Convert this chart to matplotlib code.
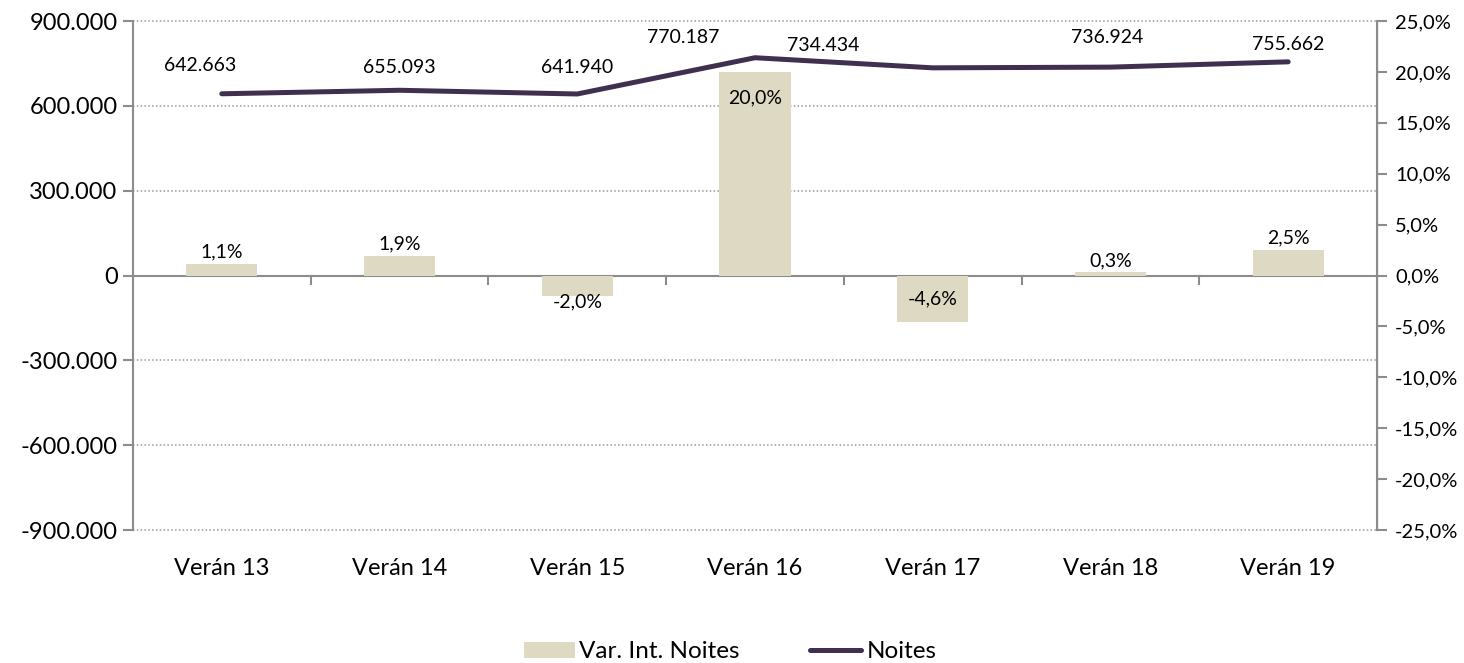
import numpy as np
import matplotlib.pyplot as plt
from matplotlib.ticker import FuncFormatter
from matplotlib.lines import Line2D
from matplotlib.patches import Patch

plt.rcParams['font.family'] = ['Lato', 'DejaVu Sans']

categories = ["Verán 13", "Verán 14", "Verán 15", "Verán 16", "Verán 17", "Verán 18", "Verán 19"]
noites = [642663, 655093, 641940, 770187, 734434, 736924, 755662]
var_pct = [1.1, 1.9, -2.0, 20.0, -4.6, 0.3, 2.5]

# manual label offsets (pixels), like the hand-placed labels in the original
line_lbl_off = [(-22, 28), (0, 23), (0, 26), (-72, 20), (-110, 22), (-3, 30), (0, 17)]
bar_lbl_off = [12, 12, -6, -26, 23, 12, 12]

bar_color = "#DDD9C3"
line_color = "#40304F"
axis_gray = "#8C8C8C"

fig = plt.figure(figsize=(14.64, 6.63), dpi=100)
ax = fig.add_axes([0.0908, 0.2006, 0.8498, 0.7677])
ax2 = ax.twinx()

x = np.arange(len(categories))

# left axis: Noites
ax.plot(x, noites, color=line_color, lw=3.6, solid_capstyle="round", zorder=3)
ax.set_xlim(-0.5, len(categories) - 0.5)
ax.set_ylim(-900000, 900000)
ax.set_yticks(np.arange(-900000, 900001, 300000))
ax.yaxis.set_major_formatter(FuncFormatter(lambda v, p: f"{int(v):,}".replace(",", ".")))
ax.tick_params(axis="y", labelsize=17, length=7, color=axis_gray, width=1.5, pad=4)
for v in [-900000, -600000, -300000, 300000, 600000, 900000]:
    ax.axhline(v, color="#999999", lw=1.1, ls=(0, (1, 1.5)), zorder=0, clip_on=False)
ax.axhline(0, color=axis_gray, lw=1.5, zorder=1)

ax.set_xticks(x)
ax.set_xticklabels(categories, fontsize=17)
ax.tick_params(axis="x", length=0, pad=20)
# category boundary tick marks on the zero line
for b in np.arange(0.5, len(categories) - 1, 1.0):
    ax.plot([b, b], [0, -30000], color=axis_gray, lw=1.5, zorder=1)

for s in ["top", "bottom"]:
    ax.spines[s].set_visible(False)
    ax2.spines[s].set_visible(False)
ax.spines["left"].set_color(axis_gray)
ax.spines["left"].set_linewidth(1.5)
ax2.spines["right"].set_color(axis_gray)
ax2.spines["right"].set_linewidth(1.5)
ax2.spines["left"].set_visible(False)

for xi, v, off in zip(x, noites, line_lbl_off):
    ax.annotate(f"{v:,}".replace(",", "."), (xi, v), xytext=off, textcoords="offset pixels",
                ha="center", va="center", fontsize=14)

# right axis: variation
ax2.bar(x, var_pct, width=0.4, color=bar_color, zorder=2)
ax2.set_ylim(-25, 25)
ax2.set_yticks(np.arange(-25, 26, 5))
ax2.yaxis.set_major_formatter(FuncFormatter(lambda v, p: f"{v:.1f}%".replace(".", ",")))
ax2.tick_params(axis="y", labelsize=14.5, length=7, color=axis_gray, width=1.5, pad=6)

for xi, v, off in zip(x, var_pct, bar_lbl_off):
    ax2.annotate(f"{v:.1f}%".replace(".", ","), (xi, v), xytext=(0, off),
                 textcoords="offset pixels", ha="center", va="center", fontsize=14)

handles = [Patch(facecolor=bar_color, label="Var. Int. Noites"),
           Line2D([0], [0], color=line_color, lw=3.6, solid_capstyle="round", label="Noites")]
fig.legend(handles=handles, loc="center", bbox_to_anchor=(0.4986, 0.0166), ncol=2, frameon=False,
           fontsize=17.5, handlelength=2.1, handleheight=0.6, handletextpad=0.2, columnspacing=2.9,
           borderpad=0)

fig.savefig("out.png", dpi=100)
